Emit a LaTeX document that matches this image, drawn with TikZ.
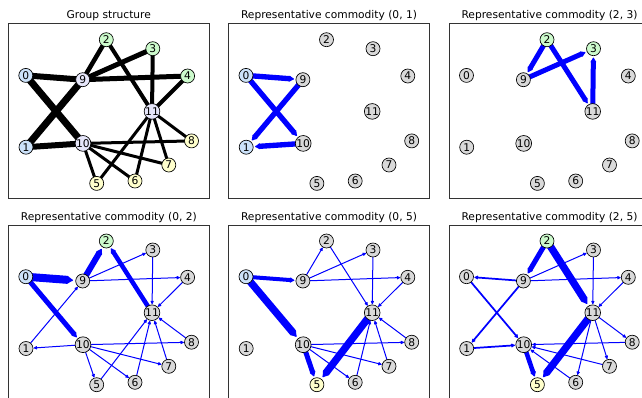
\documentclass[tikz,border=0pt]{standalone}
\usepackage{fontspec}
\setmainfont{DejaVu Sans}
\usetikzlibrary{arrows.meta,backgrounds}

\definecolor{srcblue}{RGB}{204,226,250}
\definecolor{grpgreen}{RGB}{204,250,204}
\definecolor{grpyellow}{RGB}{255,255,204}
\definecolor{hubgray}{RGB}{217,217,217}
\definecolor{hublav}{RGB}{230,230,250}

\tikzset{n0/.style={},n1/.style={},n2/.style={},n3/.style={},n4/.style={},n5/.style={},
  n6/.style={},n7/.style={},n8/.style={},n9/.style={},n10/.style={},n11/.style={}}

% the twelve vertices of one panel, placed in the panel's own frame
\newcommand{\graphnodes}[1]{%
  \node[vertex,n0] (#1-0) at (17.5,51.7) {0};
  \node[vertex,n1] (#1-1) at (17.7,123.5) {1};
  \node[vertex,n2] (#1-2) at (98,16) {2};
  \node[vertex,n3] (#1-3) at (144.5,25) {3};
  \node[vertex,n4] (#1-4) at (179.3,52.3) {4};
  \node[vertex,n5] (#1-5) at (88.4,159.7) {5};
  \node[vertex,n6] (#1-6) at (126.7,157.3) {6};
  \node[vertex,n7] (#1-7) at (160.5,141.3) {7};
  \node[vertex,n8] (#1-8) at (183.2,117.2) {8};
  \node[vertex,n9] (#1-9) at (74.4,56) {9};
  \node[vertex,n10] (#1-10) at (74.7,119.7) {10};
  \node[vertex,n11] (#1-11) at (143.7,87.7) {11};
}

\begin{document}
\begin{tikzpicture}[x=0.75pt,y=-0.75pt,
  vertex/.style={circle,draw=black,line width=0.5pt,fill=hubgray,minimum size=10.5pt,inner sep=0pt,font=\fontsize{8pt}{9pt}\selectfont},
  axesbox/.style={draw=black!80,line width=0.6pt},
  paneltitle/.style={anchor=base,font=\fontsize{8pt}{9pt}\selectfont},
  link/.style={line width=#1},
  flow/.style={draw=blue,line width=#1,shorten >=0.3*#1,-{Latex[length=3pt 0.4,width=2.5pt 0.8,round]}},
  minor/.style={flow=0.75pt}]
\useasboundingbox (0,0) rectangle (642,397);
\clip (0,0) rectangle (642,397);
\begin{scope}[on background layer]
\fill[white] (0,0) rectangle (642,397);
\end{scope}

% group structure
\begin{scope}[shift={(8.3,23.7)},n0/.style={fill=srcblue},n1/.style={fill=srcblue},
  n2/.style={fill=grpgreen},n3/.style={fill=grpgreen},n4/.style={fill=grpgreen},
  n5/.style={fill=grpyellow},n6/.style={fill=grpyellow},n7/.style={fill=grpyellow},n8/.style={fill=grpyellow},
  n9/.style={fill=hublav},n10/.style={fill=hublav},n11/.style={fill=hublav}]
\draw[axesbox] (0,0) rectangle (201,175);
\node[paneltitle] (t-grp) at (100.5,-5) {Group structure};
\graphnodes{grp}
\begin{scope}[on background layer]
\draw[link=4.5pt] (grp-0.center) -- (grp-9.center);
\draw[link=5.25pt] (grp-0.center) -- (grp-10.center);
\draw[link=5.25pt] (grp-1.center) -- (grp-9.center);
\draw[link=4.5pt] (grp-1.center) -- (grp-10.center);
\draw[link=3.4pt] (grp-2.center) -- (grp-9.center);
\draw[link=3.75pt] (grp-3.center) -- (grp-9.center);
\draw[link=3.75pt] (grp-4.center) -- (grp-9.center);
\draw[link=3pt] (grp-2.center) -- (grp-11.center);
\draw[link=3pt] (grp-3.center) -- (grp-11.center);
\draw[link=3pt] (grp-4.center) -- (grp-11.center);
\draw[link=2.25pt] (grp-10.center) -- (grp-5.center);
\draw[link=2.25pt] (grp-10.center) -- (grp-6.center);
\draw[link=2.25pt] (grp-10.center) -- (grp-7.center);
\draw[link=2.25pt] (grp-10.center) -- (grp-8.center);
\draw[link=2.25pt] (grp-11.center) -- (grp-5.center);
\draw[link=2.25pt] (grp-11.center) -- (grp-6.center);
\draw[link=2.25pt] (grp-11.center) -- (grp-7.center);
\draw[link=2.25pt] (grp-11.center) -- (grp-8.center);
\end{scope}
\end{scope}

% commodity (0, 1)
\begin{scope}[shift={(228.5,23.7)},n0/.style={fill=srcblue},n1/.style={fill=srcblue}]
\draw[axesbox] (0,0) rectangle (201,175);
\node[paneltitle] (t-c01) at (100.5,-5) {Representative commodity (0, 1)};
\graphnodes{c01}
\begin{scope}[on background layer]
\draw[flow=4pt] (c01-0.center) -- (c01-9);
\draw[flow=4pt] (c01-0.center) -- (c01-10);
\draw[flow=4pt] (c01-9.center) -- (c01-1);
\draw[flow=4pt] (c01-10.center) -- (c01-1);
\end{scope}
\end{scope}

% commodity (2, 3)
\begin{scope}[shift={(449,23.7)},n2/.style={fill=grpgreen},n3/.style={fill=grpgreen}]
\draw[axesbox] (0,0) rectangle (201,175);
\node[paneltitle] (t-c23) at (100.5,-5) {Representative commodity (2, 3)};
\graphnodes{c23}
\begin{scope}[on background layer]
\draw[flow=3.75pt] (c23-2.center) -- (c23-9);
\draw[flow=3.75pt] (c23-9.center) -- (c23-3);
\draw[flow=3.75pt] (c23-2.center) -- (c23-11);
\draw[flow=3.75pt] (c23-11.center) -- (c23-3);
\end{scope}
\end{scope}

% commodity (0, 2)
\begin{scope}[shift={(8.3,225)},n0/.style={fill=srcblue},n2/.style={fill=grpgreen}]
\draw[axesbox] (0,0) rectangle (201,175);
\node[paneltitle] (t-c02) at (100.5,-5) {Representative commodity (0, 2)};
\graphnodes{c02}
\begin{scope}[on background layer]
\draw[flow=6pt] (c02-0.center) -- (c02-9);
\draw[flow=3.75pt] (c02-0.center) -- (c02-10);
\draw[flow=4.5pt] (c02-9.center) -- (c02-2);
\draw[flow=3.4pt] (c02-11.center) -- (c02-2);
\draw[minor] (c02-9.center) -- (c02-3);
\draw[minor] (c02-9.center) -- (c02-4);
\draw[minor] (c02-3.center) -- (c02-11);
\draw[minor] (c02-4.center) -- (c02-11);
\draw[minor] (c02-1.center) -- (c02-9);
\draw[minor] (c02-10.center) -- (c02-1);
\draw[minor] (c02-10.center) -- (c02-5);
\draw[minor] (c02-10.center) -- (c02-6);
\draw[minor] (c02-10.center) -- (c02-7);
\draw[minor] (c02-10.center) -- (c02-8);
\draw[minor] (c02-5.center) -- (c02-11);
\draw[minor] (c02-6.center) -- (c02-11);
\draw[minor] (c02-7.center) -- (c02-11);
\draw[minor] (c02-8.center) -- (c02-11);
\end{scope}
\end{scope}

% commodity (0, 5)
\begin{scope}[shift={(228.5,225)},n0/.style={fill=srcblue},n5/.style={fill=grpyellow}]
\draw[axesbox] (0,0) rectangle (201,175);
\node[paneltitle] (t-c05) at (100.5,-5) {Representative commodity (0, 5)};
\graphnodes{c05}
\begin{scope}[on background layer]
\draw[flow=3pt] (c05-0.center) -- (c05-9);
\draw[flow=5.5pt] (c05-0.center) -- (c05-10);
\draw[flow=3.75pt] (c05-10.center) -- (c05-5);
\draw[flow=5.5pt] (c05-11.center) -- (c05-5);
\draw[minor] (c05-9.center) -- (c05-2);
\draw[minor] (c05-9.center) -- (c05-3);
\draw[minor] (c05-9.center) -- (c05-4);
\draw[minor] (c05-2.center) -- (c05-11);
\draw[minor] (c05-3.center) -- (c05-11);
\draw[minor] (c05-4.center) -- (c05-11);
\draw[minor] (c05-10.center) -- (c05-6);
\draw[minor] (c05-10.center) -- (c05-7);
\draw[minor] (c05-10.center) -- (c05-8);
\draw[minor] (c05-6.center) -- (c05-11);
\draw[minor] (c05-7.center) -- (c05-11);
\draw[minor] (c05-8.center) -- (c05-11);
\end{scope}
\end{scope}

% commodity (2, 5)
\begin{scope}[shift={(449,225)},n2/.style={fill=grpgreen},n5/.style={fill=grpyellow}]
\draw[axesbox] (0,0) rectangle (201,175);
\node[paneltitle] (t-c25) at (100.5,-5) {Representative commodity (2, 5)};
\graphnodes{c25}
\begin{scope}[on background layer]
\draw[flow=3.75pt] (c25-2.center) -- (c25-9);
\draw[flow=5.5pt] (c25-2.center) -- (c25-11);
\draw[flow=5.5pt] (c25-11.center) -- (c25-5);
\draw[flow=3.4pt] (c25-10.center) -- (c25-5);
\draw[flow=1.3pt] (c25-9.center) -- (c25-0);
\draw[flow=1.3pt] (c25-9.center) -- (c25-1);
\draw[flow=1.3pt] (c25-0.center) -- (c25-10);
\draw[flow=1.3pt] (c25-1.center) -- (c25-10);
\draw[minor] (c25-9.center) -- (c25-3);
\draw[minor] (c25-9.center) -- (c25-4);
\draw[minor] (c25-3.center) -- (c25-11);
\draw[minor] (c25-4.center) -- (c25-11);
\draw[minor] (c25-11.center) -- (c25-8);
\draw[minor] (c25-11.center) -- (c25-7);
\draw[minor] (c25-11.center) -- (c25-6);
\draw[minor] (c25-8.center) -- (c25-10);
\draw[minor] (c25-7.center) -- (c25-10);
\draw[minor] (c25-6.center) -- (c25-10);
\end{scope}
\end{scope}
\end{tikzpicture}
\end{document}
